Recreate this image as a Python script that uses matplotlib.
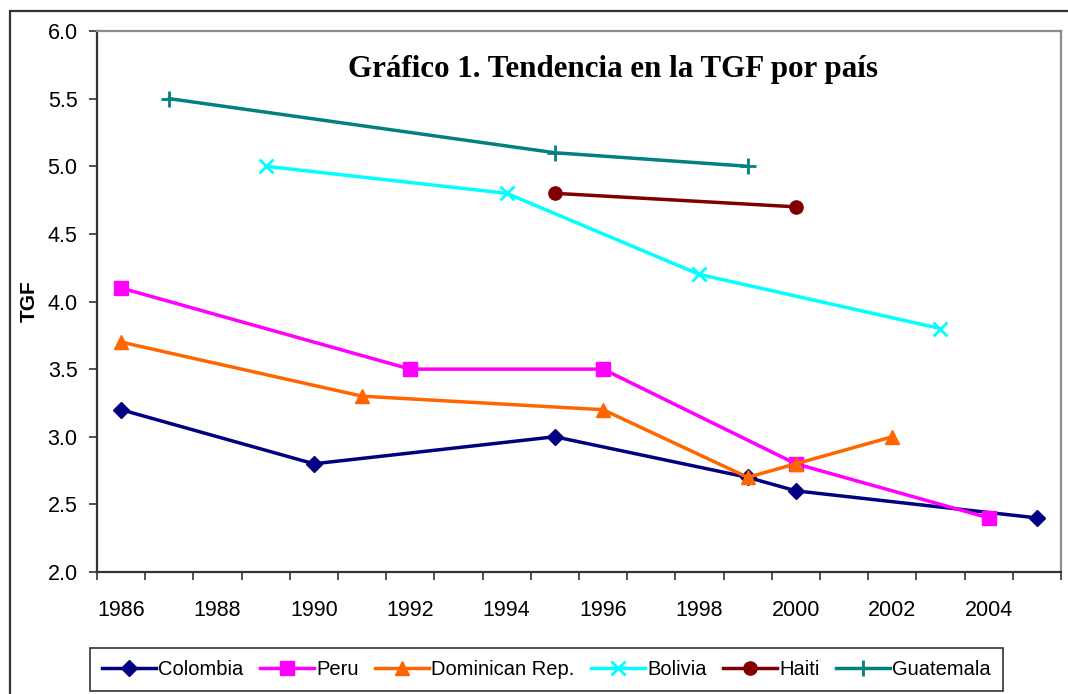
import matplotlib.pyplot as plt
import matplotlib.patches as mpatches

# TGF por pais (anio de encuesta, valor)
colombia_years = [1986, 1990, 1995, 1999, 2000, 2005]
colombia_tgf = [3.2, 2.8, 3.0, 2.7, 2.6, 2.4]
peru_years = [1986, 1992, 1996, 2000, 2004]
peru_tgf = [4.1, 3.5, 3.5, 2.8, 2.4]
dom_years = [1986, 1991, 1996, 1999, 2000, 2002]
dom_tgf = [3.7, 3.3, 3.2, 2.7, 2.8, 3.0]
bolivia_years = [1989, 1994, 1998, 2003]
bolivia_tgf = [5.0, 4.8, 4.2, 3.8]
haiti_years = [1995, 2000]
haiti_tgf = [4.8, 4.7]
guate_years = [1987, 1995, 1999]
guate_tgf = [5.5, 5.1, 5.0]

year_labels = list(range(1986, 2005, 2))

fig = plt.figure(figsize=(10.68, 6.94), dpi=100)
ax = fig.add_axes([0.0908, 0.1758, 0.9026, 0.7795])

lw = 2.5
ax.plot(colombia_years, colombia_tgf, color='#000080', marker='D', ms=8.5, lw=lw, label='Colombia')
ax.plot(peru_years, peru_tgf, color='#FF00FF', marker='s', ms=9.5, lw=lw, label='Peru')
ax.plot(dom_years, dom_tgf, color='#FF6600', marker='^', ms=10.5, lw=lw, label='Dominican Rep.')
ax.plot(bolivia_years, bolivia_tgf, color='#00FFFF', marker='x', ms=9.5, mew=2, lw=lw, label='Bolivia')
ax.plot(haiti_years, haiti_tgf, color='#800000', marker='o', ms=9.5, lw=lw, label='Haiti')
ax.plot(guate_years, guate_tgf, color='#008080', marker='+', ms=11, mew=2, lw=lw, label='Guatemala')

ax.set_xlim(1985.5, 2005.5)
ax.set_ylim(2.0, 6.0)
ax.set_yticks([2.0, 2.5, 3.0, 3.5, 4.0, 4.5, 5.0, 5.5, 6.0])
ax.set_yticklabels(['%.1f' % v for v in ax.get_yticks()], fontsize=15.5, family='Liberation Sans')
ax.set_xticks(year_labels)
ax.set_xticklabels([str(y) for y in year_labels], fontsize=15.5, family='Liberation Sans')
ax.set_xticks([y + 0.5 for y in range(1985, 2006)], minor=True)
ax.tick_params(axis='x', which='major', length=0, pad=20)
ax.tick_params(axis='x', which='minor', length=6, width=1.2, color='#333333', direction='out')
ax.tick_params(axis='y', length=6, width=1.2, color='#333333', direction='out', pad=8)

ax.spines['left'].set_color('#333333')
ax.spines['bottom'].set_color('#333333')
ax.spines['left'].set_linewidth(1.6)
ax.spines['bottom'].set_linewidth(1.6)
ax.spines['top'].set_color('#8c8c8c')
ax.spines['right'].set_color('#8c8c8c')
ax.spines['top'].set_linewidth(1.6)
ax.spines['right'].set_linewidth(1.6)

ax.set_ylabel('TGF', fontsize=15, fontweight='bold', family='Liberation Sans', labelpad=6)

ax.text(0.535, 0.955, 'Gráfico 1. Tendencia en la TGF por país', transform=ax.transAxes,
        ha='center', va='top', fontsize=22.3, fontweight='bold', family='Liberation Serif')

leg = fig.legend(loc='lower left', bbox_to_anchor=(90 / 1068, 3 / 694), ncol=6,
                 prop={'family': 'Liberation Sans', 'size': 14.5},
                 frameon=True, fancybox=False, edgecolor='black', handlelength=2.7,
                 columnspacing=0.8, handletextpad=0.1, borderpad=0.6, borderaxespad=0.0)
leg.get_frame().set_linewidth(1.2)

# outer chart border
fig.patches.append(mpatches.Rectangle((10 / 1068, -0.05), 1.1, 1 - 11 / 694 + 0.05,
                                      transform=fig.transFigure, fill=False,
                                      edgecolor='#333333', lw=1.6))

plt.savefig('out.png', format='png', dpi=100)
